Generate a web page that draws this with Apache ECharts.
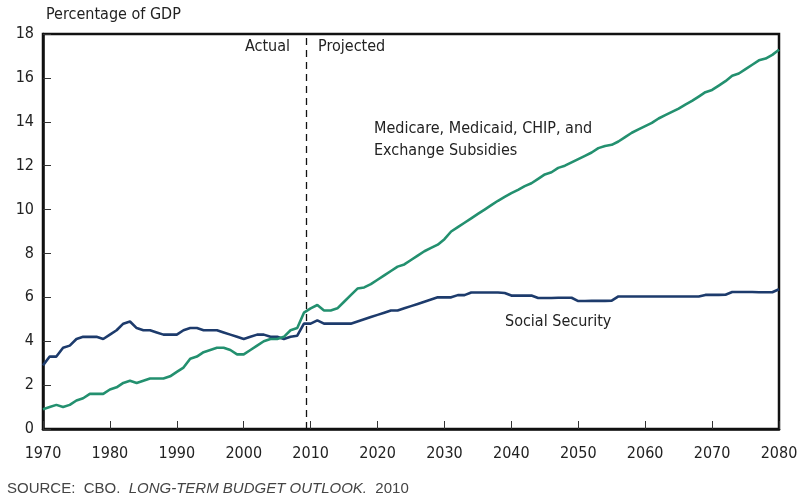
<!DOCTYPE html>
<html><head><meta charset="utf-8">
<script src="https://cdn.jsdelivr.net/npm/echarts@6/dist/echarts.min.js"></script>
<style>html,body{margin:0;padding:0;background:#fff}#c{width:812px;height:501px}</style>
</head><body><div id="c"></div>
<script>
const startYear = 1970;
const endYear = 2080;
const yTicks = [0, 2, 4, 6, 8, 10, 12, 14, 16, 18];
const projectionStart = 2009.3;

const socialSecurity = [
  2.9,3.3,3.3,3.7,3.8,4.1,4.2,4.2,4.2,4.1,
  4.3,4.5,4.8,4.9,4.6,4.5,4.5,4.4,4.3,4.3,
  4.3,4.5,4.6,4.6,4.5,4.5,4.5,4.4,4.3,4.2,
  4.1,4.2,4.3,4.3,4.2,4.2,4.1,4.2,4.25,4.8,
  4.8,4.95,4.8,4.8,4.8,4.8,4.8,4.9,5.0,5.1,
  5.2,5.3,5.4,5.4,5.5,5.6,5.7,5.8,5.9,6.0,
  6.0,6.0,6.1,6.1,6.22,6.22,6.22,6.22,6.22,6.2,
  6.08,6.08,6.08,6.08,5.97,5.97,5.97,5.98,5.98,5.98,
  5.83,5.83,5.84,5.84,5.84,5.85,6.04,6.04,6.04,6.04,
  6.04,6.04,6.04,6.04,6.04,6.04,6.04,6.04,6.04,6.11,
  6.11,6.11,6.12,6.24,6.24,6.24,6.24,6.23,6.23,6.23,
  6.37
];
const healthPrograms = [
  0.9,1.0,1.1,1.0,1.1,1.3,1.4,1.6,1.6,1.6,
  1.8,1.9,2.1,2.2,2.1,2.2,2.3,2.3,2.3,2.4,
  2.6,2.8,3.2,3.3,3.5,3.6,3.7,3.7,3.6,3.4,
  3.4,3.6,3.8,4.0,4.1,4.1,4.2,4.5,4.6,5.3,
  5.5,5.65,5.4,5.4,5.5,5.8,6.1,6.4,6.45,6.6,
  6.8,7.0,7.2,7.4,7.5,7.7,7.9,8.1,8.25,8.4,
  8.65,9.0,9.2,9.4,9.6,9.8,10.0,10.2,10.4,10.58,
  10.75,10.9,11.07,11.2,11.4,11.6,11.7,11.9,12.0,12.15,
  12.3,12.45,12.6,12.8,12.9,12.95,13.1,13.3,13.5,13.65,
  13.8,13.95,14.15,14.3,14.45,14.6,14.78,14.95,15.15,15.35,
  15.45,15.65,15.85,16.1,16.2,16.4,16.6,16.8,16.88,17.05,
  17.28
];

const years = socialSecurity.map((_, i) => startYear + i);
const ssData = years.map((y, i) => [y, socialSecurity[i]]);
const hpData = years.map((y, i) => [y, healthPrograms[i]]);

const FONT = "'Liberation Sans Narrow', 'DejaVu Sans Condensed', sans-serif";
const chart = echarts.init(document.getElementById('c'), null, {renderer: 'canvas'});
chart.setOption({
  animation: false,
  backgroundColor: '#fff',
  grid: {left: 43, right: 33, top: 34, bottom: 72, show: true, borderColor: '#111', borderWidth: 2.5, backgroundColor: 'transparent'},
  xAxis: {
    type: 'value', min: startYear, max: endYear, interval: 10,
    axisLine: {show: true, lineStyle: {color: '#111', width: 2.5}},
    axisTick: {show: true, inside: true, length: 8, lineStyle: {color: '#333', width: 1}},
    axisLabel: {margin: 17, color: '#222', fontSize: 16, fontFamily: FONT, formatter: v => String(v)},
    splitLine: {show: false}
  },
  yAxis: {
    type: 'value', min: yTicks[0], max: yTicks[yTicks.length - 1], interval: 2,
    axisLine: {show: true, lineStyle: {color: '#111', width: 2.5}},
    axisTick: {show: true, inside: true, length: 8, lineStyle: {color: '#333', width: 1}},
    axisLabel: {margin: 9, color: '#222', fontSize: 16, fontFamily: FONT},
    splitLine: {show: false}
  },
  series: [
    {
      name: 'Social Security', type: 'line', data: ssData, showSymbol: false,
      lineStyle: {color: '#1d3b6c', width: 2.6}, itemStyle: {color: '#1d3b6c'}, z: 3,
      markLine: {
        silent: true, symbol: 'none', label: {show: false},
        lineStyle: {color: '#111', type: [7, 5], width: 1.3},
        data: [{xAxis: projectionStart}]
      }
    },
    {
      name: 'Medicare, Medicaid, CHIP, and Exchange Subsidies', type: 'line', data: hpData, showSymbol: false,
      lineStyle: {color: '#23906f', width: 2.6}, itemStyle: {color: '#23906f'}, z: 4
    }
  ],
  graphic: [
    {type: 'text', left: 46, top: 7, style: {text: 'Percentage of GDP', font: '16px ' + FONT, fill: '#222'}},
    {type: 'text', left: 245, top: 39, style: {text: 'Actual', font: '16px ' + FONT, fill: '#222'}},
    {type: 'text', left: 318, top: 39, style: {text: 'Projected', font: '16px ' + FONT, fill: '#222'}},
    {type: 'text', left: 374, top: 118, style: {text: 'Medicare, Medicaid, CHIP, and\nExchange Subsidies', font: '16px ' + FONT, fill: '#222', lineHeight: 22}},
    {type: 'text', left: 505, top: 314, style: {text: 'Social Security', font: '16px ' + FONT, fill: '#222'}},
    {type: 'text', left: 7, top: 481, style: {
      rich: {
        n: {fontFamily: "'Liberation Sans', Arial, sans-serif", fontSize: 15, fill: '#444', fontWeight: 'normal'},
        i: {fontFamily: "'Liberation Sans', Arial, sans-serif", fontSize: 15, fill: '#444', fontStyle: 'italic'}
      },
      text: '{n|SOURCE:  CBO.  }{i|LONG-TERM BUDGET OUTLOOK.}{n|  2010}'
    }}
  ]
});
</script></body></html>
